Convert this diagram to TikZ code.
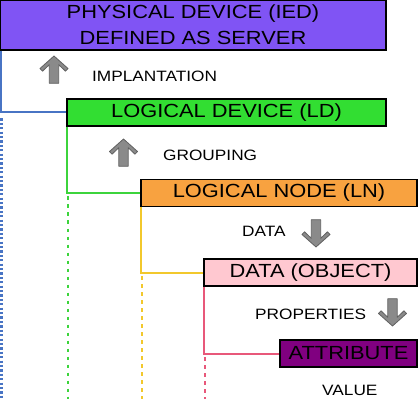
\documentclass[tikz,border=0pt]{standalone}
\usepackage{fontspec}
\setmainfont[FakeStretch=1.15]{Liberation Sans}

\definecolor{iedfill}{RGB}{128,84,244}
\definecolor{ldfill}{RGB}{50,222,50}
\definecolor{lnfill}{RGB}{248,162,64}
\definecolor{dofill}{RGB}{255,200,208}
\definecolor{atfill}{RGB}{128,0,128}
\definecolor{ldline}{RGB}{72,116,196}
\definecolor{lnline}{RGB}{60,212,60}
\definecolor{doline}{RGB}{242,200,44}
\definecolor{atline}{RGB}{232,88,122}
\definecolor{arrfill}{RGB}{138,138,138}
\definecolor{arrdraw}{RGB}{96,96,96}

\begin{document}
\begin{tikzpicture}[x=1pt, y=-1pt,
    box_style/.style={rectangle, draw=black, line width=1.5pt, minimum height=27pt, inner sep=0pt, font=\fontsize{19}{26}\selectfont},
    lbl_style/.style={anchor=west, inner sep=0pt, font=\fontsize{15}{18}\selectfont},
    gray_arrow/.pic={
        \draw[arrdraw, fill=arrfill, line width=0.8pt, line join=round]
            (0,0) -- (14,12.5) -- (11.5,15.2) -- (4.7,8.7) -- (4.7,27.3)
            -- (-4.7,27.3) -- (-4.7,8.7) -- (-11.5,15.2) -- (-14,12.5) -- cycle;
    },
    link/.style={line width=2pt},
    dotline/.style={line width=2.7pt, dash pattern=on 3.5pt off 4.5pt}
]
\useasboundingbox (0,0) rectangle (418,401);

% Boxes
\node[box_style, fill=iedfill, minimum width=386pt, minimum height=50pt, align=center] (ied) at (193,25) {PHYSICAL DEVICE (IED)\\DEFINED AS SERVER};
\node[box_style, fill=ldfill, minimum width=319pt] (ld) at (226.5,112.5) {LOGICAL DEVICE (LD)};
\node[box_style, fill=lnfill, minimum width=276pt] (ln) at (279,193) {LOGICAL NODE (LN)};
\node[box_style, fill=dofill, minimum width=213pt] (do) at (310.5,272.5) {DATA (OBJECT)};
\node[box_style, fill=atfill, minimum width=137pt] (at) at (348.5,353.5) {ATTRIBUTE};

% Labels and arrows
\pic at (54,56) {gray_arrow};
\node[lbl_style] (l1) at (92,76) {IMPLANTATION};
\pic at (123.5,139) {gray_arrow};
\node[lbl_style] (l2) at (163,155) {GROUPING};
\node[lbl_style] (l3) at (242,231) {DATA};
\pic[rotate=180] at (316,247) {gray_arrow};
\node[lbl_style] (l4) at (255,314) {PROPERTIES};
\pic[rotate=180] at (392.5,326) {gray_arrow};
\node[lbl_style] (l5) at (322,390) {VALUE};

% Tree
\draw[link, ldline] ([xshift=2pt]ied.south west) |- (ld.west);
\draw[link, lnline] ([xshift=1pt]ld.south west) |- (ln.west);
\draw[link, doline] ([xshift=1pt]ln.south west) |- (do.west);
\draw[link, atline] ([xshift=1pt]do.south west) |- (at.west);

% Dotted ends
\coordinate (e1) at (1.5,399);
\coordinate (e2) at (68,399);
\coordinate (e3) at (142,399);
\coordinate (e4) at (205,399);
\draw[line width=2.6pt, dash pattern=on 2.2pt off 2.2pt, ldline] ([yshift=-6pt]ld.west -| e1) -- (e1);
\draw[dotline, lnline] ([yshift=-3.5pt]ln.west -| e2) -- (e2);
\draw[dotline, doline] ([yshift=-3.5pt]do.west -| e3) -- (e3);
\draw[dotline, atline] ([yshift=-3.5pt]at.west -| e4) -- (e4);
\end{tikzpicture}
\end{document}
